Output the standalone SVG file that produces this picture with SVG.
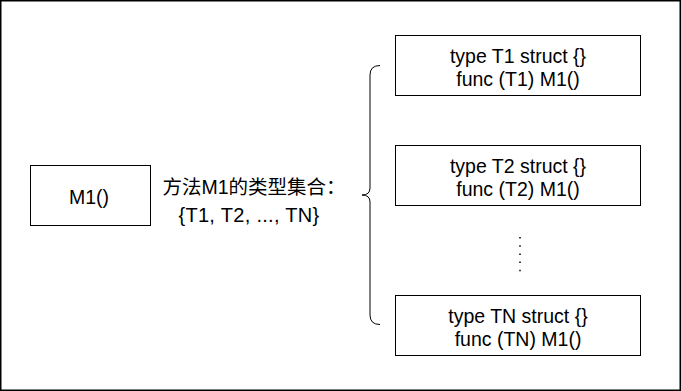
<svg xmlns="http://www.w3.org/2000/svg" width="681" height="391" viewBox="0 0 681 391">
<style>
.box{fill:#ffffff;stroke:#000000;stroke-width:1}
.t{font-family:"Liberation Sans","Noto Sans CJK SC",Arial,sans-serif;font-size:19.5px;fill:#000000;text-anchor:middle}
.ln{fill:none;stroke:#000000;stroke-width:1}
</style>
<rect x="0" y="0" width="681" height="391" fill="#ffffff"/>
<rect x="0.75" y="0.75" width="679.5" height="389.5" fill="none" stroke="#000000" stroke-width="1.5"/>
<g id="m1">
<rect class="box" x="30.5" y="165.5" width="120" height="60"/>
<text class="t" x="89" y="203.5">M1()</text>
</g>
<g id="label">
<text class="t" x="254" y="194">方法M1的类型集合：</text>
<text class="t" x="249" y="222" style="font-size:20px;letter-spacing:0.3px">{T1, T2, ..., TN}</text>
</g>
<g id="t1">
<rect class="box" x="395.5" y="35.5" width="245" height="60"/>
<text class="t" x="518" y="62.5">type T1 struct {}</text>
<text class="t" x="518" y="85.5">func (T1) M1()</text>
</g>
<g id="t2">
<rect class="box" x="395.5" y="145.5" width="245" height="60"/>
<text class="t" x="518" y="172.5">type T2 struct {}</text>
<text class="t" x="518" y="195.5">func (T2) M1()</text>
</g>
<g id="tn">
<rect class="box" x="395.5" y="295.5" width="245" height="60"/>
<text class="t" x="518" y="322.5">type TN struct {}</text>
<text class="t" x="518" y="345.5">func (TN) M1()</text>
</g>
<g id="connectors">
<path class="ln" d="M380,65.5 Q370,65.5 370,75 L370,188 Q370,195 362,195 Q370,195 370,202 L370,315 Q370,324.5 380,324.5"/>
<line x1="520" y1="237" x2="520" y2="272" stroke="#000000" stroke-width="1.5" stroke-dasharray="1.5 6.7"/>
</g>
</svg>
